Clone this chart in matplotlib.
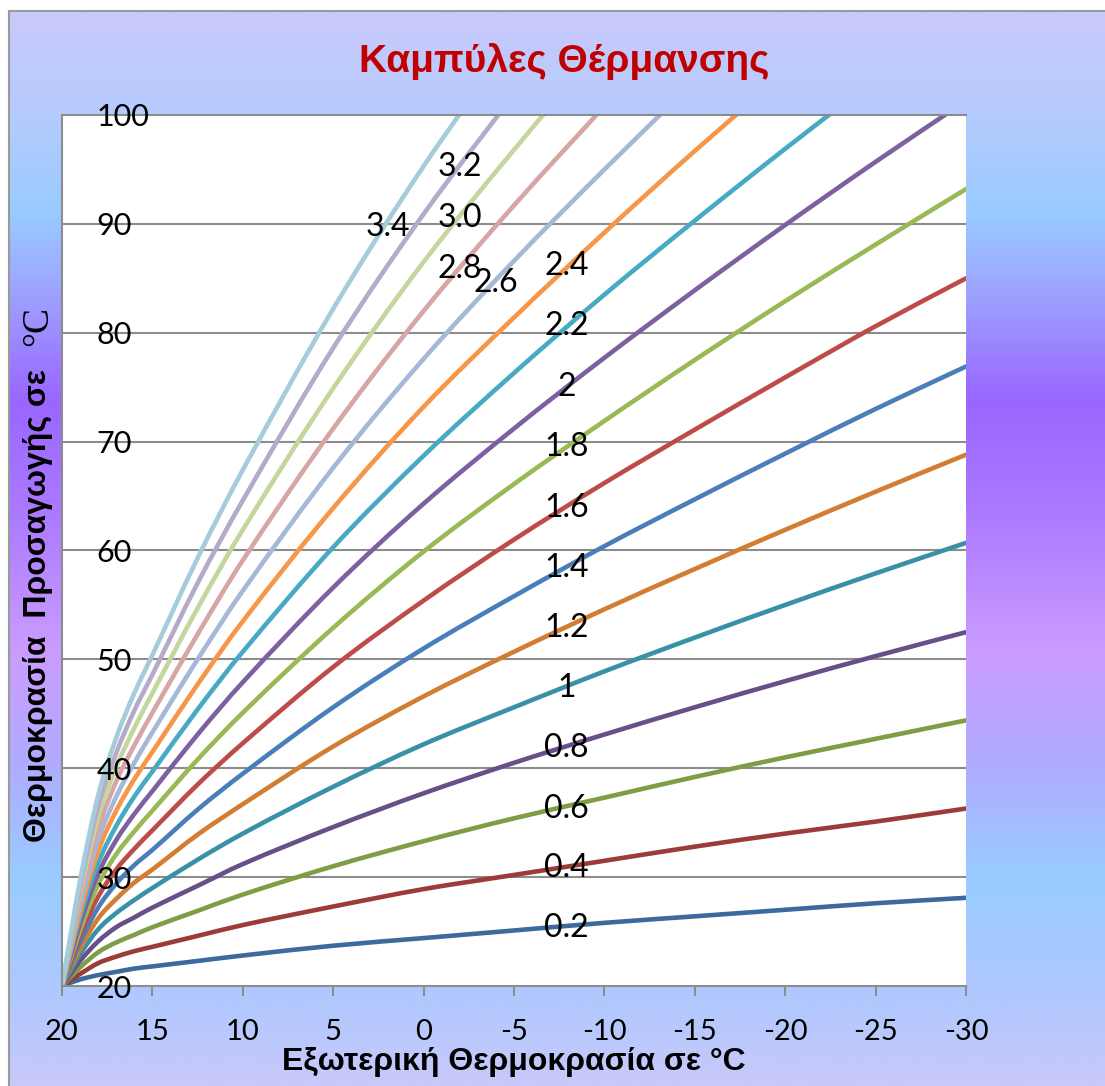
import numpy as np
import matplotlib
matplotlib.use("Agg")
import matplotlib.pyplot as plt
from matplotlib.colors import LinearSegmentedColormap
from matplotlib.path import Path
from matplotlib.patches import PathPatch

# Outdoor temperature points (deg C)
outdoor = [20, 19, 18, 17, 16, 15, 12.5, 10, 5, 0, -5, -10, -15, -20, -25, -30]

# Supply temperature for each heating curve slope
curve_02 = [20.0, 20.6, 21.0, 21.3, 21.6, 21.8, 22.3, 22.8, 23.7, 24.4, 25.1, 25.8, 26.4, 27.0, 27.6, 28.1]
curve_04 = [20.0, 21.1, 22.1, 22.7, 23.2, 23.6, 24.6, 25.6, 27.3, 28.9, 30.2, 31.5, 32.8, 34.0, 35.1, 36.3]
curve_06 = [20.0, 21.7, 23.1, 24.0, 24.7, 25.4, 26.9, 28.4, 31.0, 33.3, 35.4, 37.3, 39.2, 41.0, 42.7, 44.4]
curve_08 = [20.0, 22.3, 24.1, 25.4, 26.3, 27.2, 29.2, 31.2, 34.6, 37.7, 40.5, 43.1, 45.6, 48.0, 50.3, 52.5]
curve_10 = [20.0, 22.9, 25.2, 26.7, 27.9, 29.0, 31.6, 34.0, 38.3, 42.2, 45.6, 48.9, 52.0, 55.0, 57.9, 60.7]
curve_12 = [20.0, 23.4, 26.2, 28.0, 29.5, 30.7, 33.9, 36.7, 42.0, 46.6, 50.7, 54.6, 58.3, 61.9, 65.4, 68.8]
curve_14 = [20.0, 24.0, 27.2, 29.4, 31.1, 32.5, 36.2, 39.5, 45.6, 51.0, 55.8, 60.4, 64.7, 68.9, 73.0, 76.9]
curve_16 = [20.0, 24.6, 28.2, 30.7, 32.6, 34.3, 38.5, 42.3, 49.3, 55.4, 61.0, 66.2, 71.1, 75.9, 80.6, 85.0]
curve_18 = [20.0, 25.1, 29.3, 32.1, 34.2, 36.1, 40.8, 45.1, 52.9, 59.9, 66.1, 71.9, 77.5, 82.9, 88.1, 93.2]
curve_20 = [20.0, 25.7, 30.3, 33.4, 35.8, 37.9, 43.1, 47.9, 56.6, 64.3, 71.2, 77.7, 83.9, 89.9, 95.7, 101.3]
curve_22 = [20.0, 26.3, 31.3, 34.7, 37.4, 39.7, 45.4, 50.7, 60.3, 68.7, 76.3, 83.5, 90.3, 96.9, 103.3]
curve_24 = [20.0, 26.8, 32.4, 36.1, 39.0, 41.5, 47.7, 53.5, 63.9, 73.2, 81.4, 89.2, 96.7, 103.9]
curve_26 = [20.0, 27.4, 33.4, 37.4, 40.5, 43.3, 50.0, 56.3, 67.6, 77.6, 86.6, 95.0, 103.1]
curve_28 = [20.0, 28.0, 34.4, 38.8, 42.1, 45.1, 52.3, 59.1, 71.2, 82.0, 91.7, 100.8]
curve_30 = [20.0, 28.6, 35.5, 40.1, 43.7, 46.9, 54.7, 61.9, 74.9, 86.5, 96.8, 106.6]
curve_32 = [20.0, 29.1, 36.5, 41.4, 45.3, 48.6, 57.0, 64.6, 78.6, 90.9, 101.9]
curve_34 = [20.0, 29.7, 37.5, 42.8, 46.9, 50.4, 59.3, 67.4, 82.2, 95.3, 107.0]

curves = [curve_02, curve_04, curve_06, curve_08, curve_10, curve_12, curve_14,
          curve_16, curve_18, curve_20, curve_22, curve_24, curve_26, curve_28,
          curve_30, curve_32, curve_34]
colors = ["#3C6A9E", "#9C3B38", "#7E9D45", "#674F8A", "#3891A7", "#D27D32",
          "#4A7EBB", "#BE4B48", "#98B954", "#7D60A0", "#46AAC5", "#F79646",
          "#A6B8D8", "#D6A5A4", "#C3D69B", "#B5AACA", "#A5CCDA"]

# Slope labels and where they sit (outdoor temp, supply temp)
slope_labels = ["0.2", "0.4", "0.6", "0.8", "1", "1.2", "1.4", "1.6", "1.8", "2",
                "2.2", "2.4", "2.6", "2.8", "3.0", "3.2", "3.4"]
label_x = [-7.9] * 12 + [-4.0, -2.0, -2.0, -2.0, 2.0]
label_y = [25.3, 30.8, 36.3, 41.9, 47.4, 52.9, 58.4, 63.9, 69.5, 75.0,
           80.6, 86.1, 84.6, 85.9, 90.5, 95.2, 89.7]

x_ticks = [20, 15, 10, 5, 0, -5, -10, -15, -20, -25, -30]
y_ticks = [20, 30, 40, 50, 60, 70, 80, 90, 100]


def smooth_path(xs, ys):
    """Cubic Hermite curve through the points (x-based tangents), as Bezier path."""
    x = np.asarray(xs, float)
    y = np.asarray(ys, float)
    m = np.empty_like(y)
    m[1:-1] = (y[2:] - y[:-2]) / (x[2:] - x[:-2])
    m[0] = (y[1] - y[0]) / (x[1] - x[0])
    m[-1] = (y[-1] - y[-2]) / (x[-1] - x[-2])
    verts = [(x[0], y[0])]
    codes = [Path.MOVETO]
    for i in range(len(x) - 1):
        h = x[i + 1] - x[i]
        verts += [(x[i] + h / 3, y[i] + m[i] * h / 3),
                  (x[i + 1] - h / 3, y[i + 1] - m[i + 1] * h / 3),
                  (x[i + 1], y[i + 1])]
        codes += [Path.CURVE4] * 3
    return Path(verts, codes)


W, H = 1105, 1086
fig = plt.figure(figsize=(W / 100, H / 100), dpi=100)
fig.patch.set_facecolor("white")

# gradient chart area
stops = [(11, "#C9C9FB"), (110, "#B6CBFE"), (210, "#99CCFF"), (300, "#9E9EFF"),
         (400, "#9966FF"), (520, "#AD7BFF"), (650, "#CA9CFF"), (760, "#B1ABFF"),
         (880, "#99CCFF"), (1000, "#B0C8FF"), (1086, "#C8C8FA")]
y0, y1 = stops[0][0], stops[-1][0]
cmap = LinearSegmentedColormap.from_list(
    "bg", [((p - y0) / (y1 - y0), c) for p, c in stops])
bg = fig.add_axes([9 / W, 0, 1 - 9 / W, 1 - 11 / H], zorder=0)
bg.imshow(np.linspace(0, 1, 512).reshape(-1, 1), cmap=cmap, aspect="auto",
          extent=[0, 1, 0, 1], origin="upper")
bg.set_xticks([])
bg.set_yticks([])
for side in ["right", "bottom"]:
    bg.spines[side].set_visible(False)
for side in ["left", "top"]:
    bg.spines[side].set_color("#9A9A9A")
    bg.spines[side].set_linewidth(1.5)

ax = fig.add_axes([62 / W, 1 - 986 / H, (966 - 62) / W, (986 - 115) / H], zorder=1)
ax.set_facecolor("white")

# horizontal gridlines under the curves
for yt in y_ticks[1:-1]:
    ax.axhline(yt, color="#8C8C8C", lw=1.5, zorder=1)

for vals, col in zip(curves, colors):
    patch = PathPatch(smooth_path(outdoor[:len(vals)], vals), fill=False,
                      edgecolor=col, lw=3.3, capstyle="round",
                      joinstyle="round", zorder=2)
    ax.add_patch(patch)

for txt, lx, ly in zip(slope_labels, label_x, label_y):
    ax.text(lx, ly, txt, fontsize=23, family="Lato", ha="center", va="center",
            color="black", zorder=5)

ax.set_xlim(20, -30)
ax.set_ylim(20, 100)
ax.set_xticks(x_ticks)
ax.set_yticks(y_ticks)
ax.set_xticklabels([str(t) for t in x_ticks], fontsize=21, family="Lato")
ax.set_yticklabels([str(t) for t in y_ticks], fontsize=22, family="Lato")
ax.set_axisbelow(False)

ax.tick_params(axis="x", direction="out", length=7, width=1.5, color="#8C8C8C",
               pad=17)
ax.tick_params(axis="y", length=0, pad=-25)
for lbl in ax.get_yticklabels():
    lbl.set_horizontalalignment("left")

for side in ["left", "bottom", "top"]:
    ax.spines[side].set_color("#8C8C8C")
    ax.spines[side].set_linewidth(1.5)
ax.spines["right"].set_visible(False)

fig.text(564 / W, 1 - 62 / H, "Καμπύλες Θέρμανσης", fontsize=28,
         family="Liberation Sans", weight="bold", color="#C00000",
         ha="center", va="center")
fig.text(514 / W, 1 - 1062 / H, "Εξωτερική Θερμοκρασία σε °C", fontsize=23,
         family="Liberation Sans", weight="bold", ha="center", va="center")
fig.text(38 / W, 1 - 606 / H, "Θερμοκρασία  Προσαγωγής σε", fontsize=23,
         family="Liberation Sans", weight="bold", rotation=90,
         ha="center", va="center")
fig.text(38 / W, 1 - 326 / H, "°C", fontsize=27, family="Liberation Serif",
         rotation=90, ha="center", va="center")

fig.savefig("out.png", dpi=100)
